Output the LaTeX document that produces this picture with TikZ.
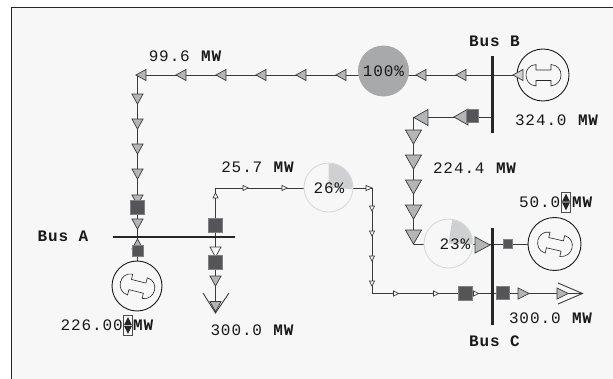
\documentclass[tikz,border=0pt]{standalone}
\usepackage{fontspec}
\usetikzlibrary{shapes.geometric}
\newfontfamily\labfont[LetterSpace=5.6]{Liberation Mono}
\definecolor{panelbg}{HTML}{F7F7F7}
\definecolor{wire}{HTML}{3A3A3A}
\definecolor{tipfill}{HTML}{B4B5B7}
\definecolor{breaker}{HTML}{555558}
\definecolor{ringgray}{HTML}{D9D9D9}
\definecolor{piegray}{HTML}{CFD0D2}
\definecolor{fullgray}{HTML}{A8A9AB}
\tikzset{
    wireline/.style={draw=wire,line width=0.9pt},
    busbar/.style={draw=black!85,line width=2.6pt},
    tip/.style={shape=isosceles triangle,isosceles triangle stretches,draw=wire,fill=tipfill,line width=0.7pt,inner sep=0pt,anchor=apex},
    smalltip/.style={tip,minimum width=5pt,minimum height=5pt,fill=panelbg},
    midtip/.style={tip,minimum width=11pt,minimum height=10pt},
    bigtip/.style={tip,minimum width=16pt,minimum height=14pt},
    breakerbox/.style={shape=rectangle,fill=breaker,draw=breaker!75,line width=0.5pt,inner sep=0pt,minimum size=#1},
    pie/.style={shape=circle,draw=ringgray,line width=0.9pt,fill=panelbg,inner sep=0pt,minimum size=49pt},
    gen/.style={shape=circle,draw=black!90,line width=0.9pt,fill=panelbg,inner sep=0pt,minimum size=#1},
    lab/.style={font=\labfont\fontsize{16}{16}\selectfont,text=black!90,inner sep=0pt},
    blab/.style={font=\labfont\bfseries\fontsize{16}{16}\selectfont,text=black!90,inner sep=0pt},
    spinbox/.style={shape=rectangle,draw=black!70,line width=0.6pt,fill=panelbg,inner sep=0pt,minimum width=9pt,minimum height=20pt},
    spintip/.style={shape=isosceles triangle,isosceles triangle stretches,fill=black!85,inner sep=0pt,minimum width=8pt,minimum height=8pt,anchor=apex},
    genface/.pic={
        \draw[draw=black!85,line width=0.6pt] (-7,-10.5) .. controls (-14,-10) and (-17,-5) .. (-17,0) .. controls (-17,5) and (-14,10.5) .. (-7,11) -- (-7,5.5) -- (8,5.5) -- (8,11) .. controls (15,10) and (18,5) .. (18,0) .. controls (18,-5) and (15,-10) .. (8,-10.5) -- (8,-5) -- (-7,-5) -- cycle;
    }
}
\begin{document}
\begin{tikzpicture}[x=1pt,y=-1pt]
    \useasboundingbox (0,0) rectangle (613,379);
    \fill[panelbg] (11,7) rectangle (613,379);
    \draw[black!85,line width=0.8pt] (11,379) -- (11,7) -- (613,7);

    % wire ends
    \coordinate (NW) at (137.5,75);
    \coordinate (BusBtop) at (492.5,75);
    \coordinate (GenBleft) at (517,75);
    \coordinate (BusBlow) at (492.5,117);
    \coordinate (TurnB) at (413.5,117);
    \coordinate (TurnC) at (413.5,244);
    \coordinate (GenCleft) at (528,244);
    \coordinate (TurnA) at (215.5,188);
    \coordinate (TurnR) at (372,188);
    \coordinate (TurnS) at (372,293.5);
    \coordinate (LoadCtip) at (582.5,293.5);
    \coordinate (LoadAtip) at (215.5,313);
    \coordinate (BusAa) at (137.5,237);
    \coordinate (GenAtop) at (137.5,261);

    \path [wireline] (BusBtop) edge (NW);
    \path [wireline] (NW) edge (BusAa);
    \path [wireline] (BusAa) edge (GenAtop);
    \path [wireline] (BusBtop) edge (GenBleft);
    \path [wireline] (BusBlow) edge (TurnB);
    \path [wireline] (TurnB) edge (TurnC);
    \path [wireline] (TurnC) edge (GenCleft);
    \path [wireline] (LoadAtip) edge (TurnA);
    \path [wireline] (TurnA) edge (TurnR);
    \path [wireline] (TurnR) edge (TurnS);
    \path [wireline] (TurnS) edge (LoadCtip);

    % bars
    \coordinate (BusAl) at (112.5,237);
    \coordinate (BusAr) at (235,237);
    \coordinate (BusBu) at (492.5,56);
    \coordinate (BusBd) at (492.5,133);
    \coordinate (BusCu) at (492.5,228);
    \coordinate (BusCd) at (492.5,325);
    \path [busbar] (BusAl) edge (BusAr);
    \path [busbar] (BusBu) edge (BusBd);
    \path [busbar] (BusCu) edge (BusCd);

    % gauges
    \node[pie,fill=fullgray,draw=fullgray,minimum size=50pt] (PieAB) at (383.5,71) {};
    \node[pie] (PieAA) at (328.5,187.5) {};
    \node[pie] (PieBC) at (448.5,243.5) {};
    \fill[piegray] (PieAA.center) -- ++(90:24pt) arc[start angle=90,end angle=-4,radius=24pt] -- cycle;
    \fill[piegray] (PieBC.center) -- ++(81:24pt) arc[start angle=81,end angle=-2,radius=24pt] -- cycle;

    % generators
    \node[gen=50pt] (GenA) at (137,286) {};
    \node[gen=52pt] (GenB) at (543,75) {};
    \node[gen=53pt] (GenC) at (554.5,244) {};
    \pic[rotate=-14] at (GenA) {genface};
    \pic at (GenB) {genface};
    \pic[rotate=-13] at (GenC) {genface};

    % flow marks
    \foreach \x [count=\i] in {135,175,215,255,295,335,415,455}
        \node[midtip,rotate=180] (topflow\i) at (\x,75) {};
    \node[midtip,rotate=180,fill=piegray] (genBflow) at (512,75) {};
    \foreach \y [count=\i] in {105,130,155,180,206,230}
        \node[midtip,rotate=-90] (leftflow\i) at (137.5,\y) {};
    \node[midtip,rotate=90] (genAflow) at (137.5,238) {};
    \node[bigtip,rotate=180] (lowBflow) at (453,117) {};
    \node[bigtip,rotate=180] (cornerB) at (413,117.5) {};
    \foreach \y [count=\i] in {145,170,195,220,245}
        \node[bigtip,rotate=-90] (midflow\i) at (413.5,\y) {};
    \node[bigtip,minimum height=15pt] (genCflow) at (491,245) {};
    \foreach \x [count=\i] in {249,288}
        \node[smalltip] (pieAin\i) at (\x,188) {};
    \node[smalltip,minimum height=6pt] (pieAout) at (373,188) {};
    \node[smalltip,rotate=90] (spurAflow) at (215.5,192) {};
    \foreach \y [count=\i] in {212,237,262,287}
        \node[smalltip,rotate=-90] (rightflow\i) at (372,\y) {};
    \foreach \x [count=\i] in {399.5,439.5,479.5}
        \node[smalltip] (lowflow\i) at (\x,293.5) {};
    \node[midtip,minimum height=11pt] (loadCflow) at (530,293.5) {};
    \node[midtip,minimum height=11pt] (loadCend) at (569,293.5) {};
    \node[midtip,rotate=-90,fill=panelbg] (loadAup) at (215.5,258) {};
    \node[midtip,rotate=-90] (loadAflow) at (215.5,287) {};
    \node[midtip,rotate=-90] (loadAend) at (215.5,312.5) {};

    % breakers
    \node[breakerbox=14pt] (brkA1) at (137.5,207) {};
    \node[breakerbox=11pt] (brkA2) at (137.5,250.5) {};
    \node[breakerbox=14pt] (brkA3) at (215,225) {};
    \node[breakerbox=13.5pt] (brkA4) at (215,262.5) {};
    \node[breakerbox=12.5pt] (brkB) at (472,116) {};
    \node[breakerbox=9.5pt] (brkC1) at (507.5,244) {};
    \node[breakerbox=14pt] (brkC2) at (465.5,293) {};
    \node[breakerbox=13pt] (brkC3) at (502.5,293) {};

    % load arrows
    \coordinate (LoadAl) at (203,293);
    \coordinate (LoadAr) at (229,293);
    \coordinate (LoadCu) at (558,283);
    \coordinate (LoadCd) at (558,304);
    \draw[wireline] (LoadAl) -- (LoadAtip) -- (LoadAr);
    \draw[wireline] (LoadCu) -- (LoadCtip) -- (LoadCd);

    % texts
    \node[lab] (lab99) at (185.5,56) {99.6 \textbf{MW}};
    \node[lab] (lab25) at (258,167) {25.7 \textbf{MW}};
    \node[blab] (labB) at (494.5,41) {Bus B};
    \node[lab] (labGB) at (557,120) {324.0 \textbf{MW}};
    \node[lab] (lab224) at (475,168) {224.4 \textbf{MW}};
    \node[lab] (lab100) at (383.5,71.5) {100\%};
    \node[lab] (lab26) at (329,188) {26\%};
    \node[lab] (lab23) at (455,244) {23\%};
    \node[blab] (labA) at (63,236) {Bus A};
    \node[lab] (lab300a) at (252.5,330) {300.0 \textbf{MW}};
    \node[lab] (lab300c) at (551,318) {300.0 \textbf{MW}};
    \node[blab] (labC) at (494.5,341) {Bus C};
    \node[lab,anchor=east] (labGA) at (123,325.5) {226.00};
    \node[blab,anchor=west] (unitA) at (133,325.5) {MW};
    \node[lab,anchor=east] (labGC) at (560.5,202) {50.0};
    \node[blab,anchor=west] (unitC) at (572,202) {MW};

    % spin buttons
    \node[spinbox] (spinA) at (128,325.5) {};
    \node[spintip,rotate=90] (spinAu) at (128,316.5) {};
    \node[spintip,rotate=-90] (spinAd) at (128,334.5) {};
    \node[spinbox] (spinC) at (566,202) {};
    \node[spintip,rotate=90] (spinCu) at (566,193) {};
    \node[spintip,rotate=-90] (spinCd) at (566,211) {};
\end{tikzpicture}
\end{document}
